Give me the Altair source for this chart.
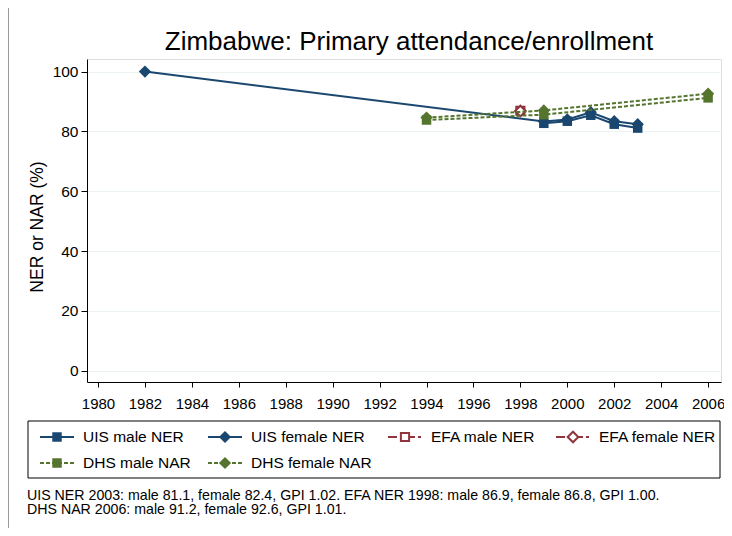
import altair as alt
import pandas as pd

# ---- data ----
uis_male_years = [1999, 2000, 2001, 2002, 2003]
uis_male_ner = [82.7, 83.4, 85.4, 82.4, 81.1]
uis_female_years = [1982, 1999, 2000, 2001, 2002, 2003]
uis_female_ner = [100.0, 83.3, 84.0, 86.4, 83.4, 82.4]
efa_male_years = [1998]
efa_male_ner = [86.9]
efa_female_years = [1998]
efa_female_ner = [86.8]
dhs_male_years = [1994, 1999, 2006]
dhs_male_nar = [83.8, 85.6, 91.2]
dhs_female_years = [1994, 1999, 2006]
dhs_female_nar = [84.6, 87.0, 92.6]

series_names = ["UIS male NER", "UIS female NER", "EFA male NER",
                "EFA female NER", "DHS male NAR", "DHS female NAR"]
series_years = [uis_male_years, uis_female_years, efa_male_years,
                efa_female_years, dhs_male_years, dhs_female_years]
series_vals = [uis_male_ner, uis_female_ner, efa_male_ner,
               efa_female_ner, dhs_male_nar, dhs_female_nar]

title_text = "Zimbabwe: Primary attendance/enrollment"
y_title = "NER or NAR (%)"
notes = ["UIS NER 2003: male 81.1, female 82.4, GPI 1.02. EFA NER 1998: male 86.9, female 86.8, GPI 1.00.",
         "DHS NAR 2006: male 91.2, female 92.6, GPI 1.01."]
x_ticks = list(range(1980, 2007, 2))
y_ticks = [0, 20, 40, 60, 80, 100]

# ---- styles ----
NAVY = "#1a476f"
MAROON = "#90353b"
GREEN = "#55752f"
FONT = "Liberation Sans"
styles = {
    "UIS male NER":   dict(color=NAVY, shape="square", filled=True, dash=None),
    "UIS female NER": dict(color=NAVY, shape="diamond", filled=True, dash=None),
    "EFA male NER":   dict(color=MAROON, shape="square", filled=False, dash=[9, 3, 3, 3]),
    "EFA female NER": dict(color=MAROON, shape="diamond", filled=False, dash=[9, 3, 3, 3]),
    "DHS male NAR":   dict(color=GREEN, shape="square", filled=True, dash=[4, 2]),
    "DHS female NAR": dict(color=GREEN, shape="diamond", filled=True, dash=[4, 2]),
}

PL = 79          # left padding (plot starts at page x = 8 + PL)
W, H = 634, 323
rows = []
for name, ys, vs in zip(series_names, series_years, series_vals):
    for y, v in zip(ys, vs):
        rows.append({"series": name, "year": y, "value": v})
df = pd.DataFrame(rows)

xscale = alt.Scale(domain=[1979.53, 2006.55], nice=False, zero=False)
yscale = alt.Scale(domain=[-3.8, 104.2], nice=False, zero=False)

base = alt.Chart(df)
layers = []

# axes carrier
axes = base.mark_point(opacity=0).encode(
    x=alt.X("year:Q", scale=xscale,
            axis=alt.Axis(values=x_ticks, format="d", title=None, grid=False,
                          tickSize=5, labelPadding=9, labelFontSize=15,
                          labelFont=FONT, labelColor="black", domainColor="black",
                          tickColor="black", labelFlush=False)),
    y=alt.Y("value:Q", scale=yscale,
            axis=alt.Axis(values=y_ticks, title=None, grid=True, gridColor="#eaf2f3",
                          gridWidth=1.2, tickSize=6, labelPadding=3, labelFontSize=15.5,
                          labelFont=FONT, labelColor="black", domainColor="black",
                          tickColor="black")),
)
layers.append(axes)

sz = {"square": 90, "diamond": 150}
for name in series_names:
    st = styles[name]
    sub = base.transform_filter(alt.datum.series == name)
    enc = dict(x=alt.X("year:Q", scale=xscale), y=alt.Y("value:Q", scale=yscale))
    if len(series_years[series_names.index(name)]) > 1:
        lk = dict(color=st["color"], strokeWidth=2)
        if st["dash"]:
            lk["strokeDash"] = st["dash"]
        layers.append(sub.mark_line(**lk).encode(**enc))
    if st["filled"]:
        pm = sub.mark_point(shape=st["shape"], filled=True, color=st["color"],
                            size=sz[st["shape"]], opacity=1)
    else:
        pm = sub.mark_point(shape=st["shape"], filled=False, color=st["color"],
                            fill="white", fillOpacity=1, strokeWidth=2,
                            size=sz[st["shape"]] * 0.75, opacity=1)
    layers.append(pm.encode(**enc))

one = alt.Chart(pd.DataFrame({"a": [0]}))
off = 82 - PL  # keep page positions of decorations

# title
layers.append(one.mark_text(text=title_text, font=FONT, fontSize=26, color="black",
                            align="center", baseline="middle")
              .encode(x=alt.value(319 + off), y=alt.value(-17)))
# y title
layers.append(one.mark_text(text=y_title, font=FONT, fontSize=17.5, color="black",
                            align="center", baseline="middle", angle=270)
              .encode(x=alt.value(-52 + off), y=alt.value(168)))

# legend box
layers.append(one.mark_rect(fill="white", stroke="black", strokeWidth=1)
              .encode(x=alt.value(-62 + off), x2=alt.value(630 + off),
                      y=alt.value(362), y2=alt.value(419)))
col_marker = [-33, 135, 315, 483]
row_y = [378, 404]
for i, name in enumerate(series_names):
    st = styles[name]
    cx = col_marker[i % 4] + off
    cy = row_y[i // 4]
    rk = dict(color=st["color"], strokeWidth=2)
    if st["dash"]:
        rk["strokeDash"] = st["dash"]
    layers.append(one.mark_rule(**rk).encode(x=alt.value(cx - 17), x2=alt.value(cx + 17),
                                             y=alt.value(cy)))
    if st["filled"]:
        pm = one.mark_point(shape=st["shape"], filled=True, color=st["color"],
                            size=sz[st["shape"]], opacity=1)
    else:
        pm = one.mark_point(shape=st["shape"], filled=False, color=st["color"],
                            fill="white", fillOpacity=1, strokeWidth=2,
                            size=sz[st["shape"]] * 0.75, opacity=1)
    layers.append(pm.encode(x=alt.value(cx), y=alt.value(cy)))
    layers.append(one.mark_text(text=name, font=FONT, fontSize=15.5, color="black",
                                align="left", baseline="middle")
                  .encode(x=alt.value(cx + 26), y=alt.value(cy)))

# notes
for j, line in enumerate(notes):
    layers.append(one.mark_text(text=line, font=FONT, fontSize=14.2, color="black",
                                align="left", baseline="middle")
                  .encode(x=alt.value(-63 + off), y=alt.value(436.5 + 14.5 * j)))

# outer border (left edge)
layers.append(one.mark_rule(color="#999999", strokeWidth=1)
              .encode(x=alt.value(-PL + 0.5), y=alt.value(-60), y2=alt.value(470)))

chart = alt.layer(*layers).properties(
    width=W, height=H,
    padding={"left": PL, "top": 51, "right": 716 - PL - W, "bottom": 146},
    autosize=alt.AutoSizeParams(type="none"),
).configure_view(stroke=None).configure(background="white")

chart.save("out.html", embed_options={"renderer": "svg", "actions": False})
